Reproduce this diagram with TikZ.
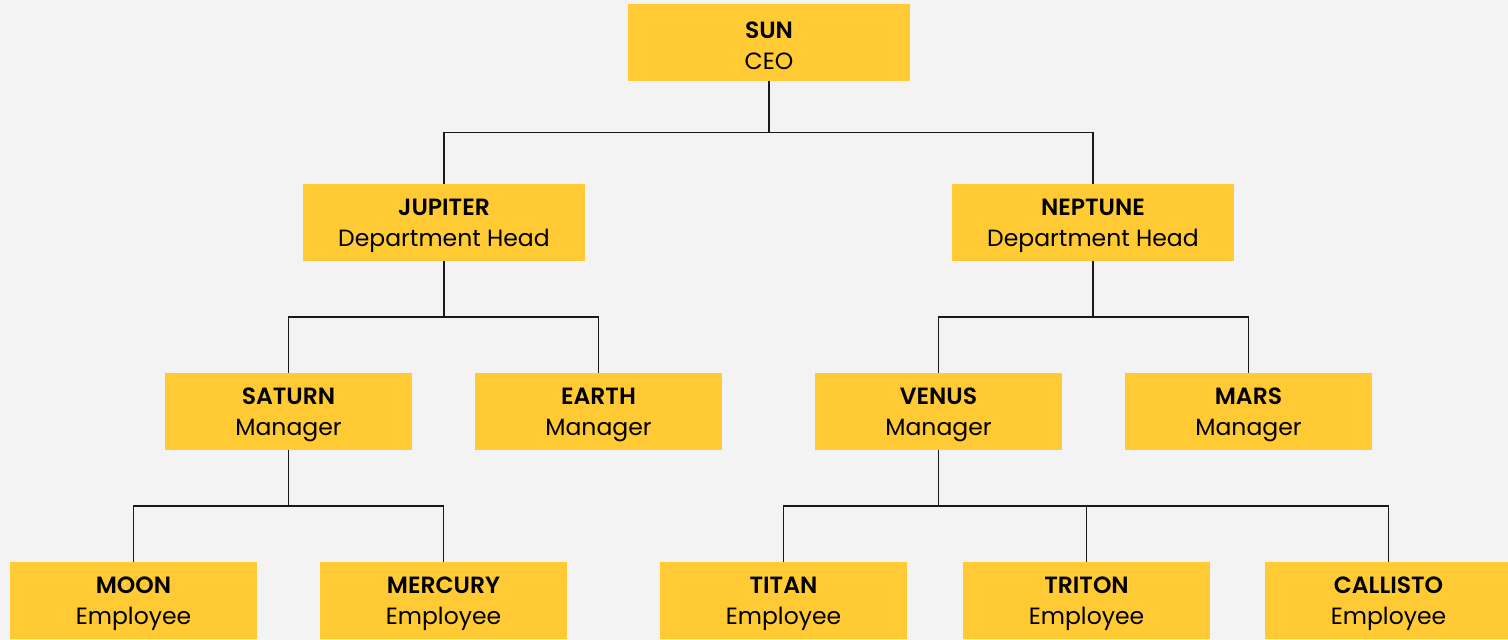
\documentclass[tikz,border=0pt]{standalone}
\usepackage{fontspec}
\setmainfont{Poppins}[BoldFont={Poppins SemiBold}]
\usetikzlibrary{calc}
\definecolor{chartbg}{HTML}{F3F3F3}
\definecolor{boxyellow}{HTML}{FFCA33}
\newcommand{\card}[2]{\rule{0pt}{22.5pt}\textbf{#1}\\#2}
\tikzset{
  wide/.style={fill=boxyellow, minimum width=282pt, minimum height=77pt,
    inner sep=0pt, align=center, font=\fontsize{23.5}{31}\selectfont},
  narrow/.style={wide, minimum width=247pt},
  link/.style={line width=1.8pt, black!90}
}
\begin{document}
\begin{tikzpicture}[x=1pt,y=-1pt]
    % Background and page size
    \fill[chartbg] (0,0) rectangle (1508,640);
    \useasboundingbox (0,0) rectangle (1508,640);

    % Top and department heads
    \node[wide] (sun) at (769,42.5) {\card{SUN}{CEO}};
    \node[wide] (jupiter) at (444,222.5) {\card{JUPITER}{Department Head}};
    \node[wide] (neptune) at (1093,222.5) {\card{NEPTUNE}{Department Head}};

    % Managers and employees
    \foreach \nm/\x/\y/\title/\role in {
        saturn/288.5/411.5/SATURN/Manager,
        earth/598.5/411.5/EARTH/Manager,
        venus/938.5/411.5/VENUS/Manager,
        mars/1248.5/411.5/MARS/Manager,
        moon/133.5/600.5/MOON/Employee,
        mercury/443.5/600.5/MERCURY/Employee,
        titan/783.5/600.5/TITAN/Employee,
        triton/1086.5/600.5/TRITON/Employee,
        callisto/1388.5/600.5/CALLISTO/Employee
    } {
        \node[narrow] (\nm) at (\x,\y) {\card{\title}{\role}};
    }

    % Elbow connectors
    \foreach \a/\b in {sun/jupiter, sun/neptune, jupiter/saturn, jupiter/earth,
        neptune/venus, neptune/mars, saturn/moon, saturn/mercury,
        venus/titan, venus/triton, venus/callisto} {
        \draw[link] (\a.south) |- ($(\a.south)!0.5!(\b.north)$) -| (\b.north);
    }
\end{tikzpicture}
\end{document}
